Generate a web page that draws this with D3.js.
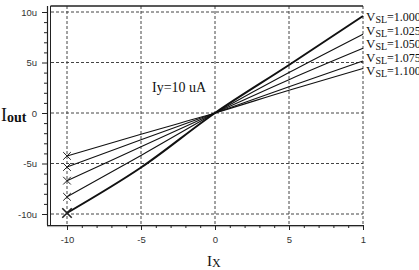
<!DOCTYPE html>
<html lang="en">
<head>
<meta charset="UTF-8">
<title>Iout vs Ix</title>
<script src="https://cdn.jsdelivr.net/npm/d3@7"></script>
<style>
body { margin: 0; background: #fff; }
svg { display: block; }
.tick text { font: 9.5px "Liberation Sans", Arial, sans-serif; fill: #333; }
.serif { font-family: "Liberation Serif", "Times New Roman", serif; fill: #111; }
</style>
</head>
<body>
<svg id="chart" width="419" height="270"></svg>
<script>
// x values of the sweep (Ix)
const ixValues = [-10, -5, 0, 5, 10];
// Iout in uA, one series per VSL
const vslLabels = ["1.000", "1.025", "1.050", "1.075", "1.100"];
const ioutSeries = [
    [-9.9, -5.4, 0, 4.75, 9.6],
    [-8.3, -4.2, 0, 4.0, 7.8],
    [-6.7, -3.35, 0, 3.3, 6.4],
    [-5.35, -2.65, 0, 2.6, 5.15],
    [-4.25, -2.1, 0, 2.25, 4.4]
];
const xMajor = [-10, -5, 0, 5, 10];
const xMajorLabels = ["-10", "-5", "0", "5", "1"];
const yMajor = [10, 5, 0, -5, -10];
const yMajorLabels = ["10u", "5u", "0", "-5u", "-10u"];

const svg = d3.select("#chart");
const x = d3.scaleLinear().domain([-10, 10]).range([67, 363]);
const y = d3.scaleLinear().domain([-10, 10]).range([214, 12]);

const TOP = 6, BOTTOM = 225, LEFT = 47;

// grid
const grid = svg.append("g").attr("stroke", "#444").attr("stroke-dasharray", "3,2").attr("stroke-width", 1);
grid.selectAll(".gx").data(xMajor).join("line")
    .attr("x1", d => x(d)).attr("x2", d => x(d))
    .attr("y1", TOP).attr("y2", BOTTOM);
grid.selectAll(".gy").data(yMajor).join("line")
    .attr("x1", 51).attr("x2", 363)
    .attr("y1", d => y(d)).attr("y2", d => y(d));

// frame
svg.append("line").attr("x1", 50.5).attr("x2", 363).attr("y1", TOP).attr("y2", TOP)
    .attr("stroke", "#222").attr("stroke-width", 1.5);
svg.append("line").attr("x1", 50.5).attr("x2", 50.5).attr("y1", TOP).attr("y2", BOTTOM)
    .attr("stroke", "#222").attr("stroke-width", 1);
svg.append("line").attr("x1", LEFT).attr("x2", 363).attr("y1", BOTTOM + 1.6).attr("y2", BOTTOM + 1.6)
    .attr("stroke", "#aaa").attr("stroke-width", 1);

// axes
const minorX = d3.range(-10, 10.01, 1).filter(v => !xMajor.includes(v));
const minorY = d3.range(-10, 10.01, 1).filter(v => !yMajor.includes(v));

const gx = svg.append("g").attr("transform", `translate(0,${BOTTOM})`);
gx.call(d3.axisBottom(x).tickValues(xMajor).tickSize(5).tickSizeOuter(0)
    .tickFormat((d, i) => xMajorLabels[i]).tickPadding(6));
gx.append("g").call(d3.axisBottom(x).tickValues(minorX).tickSize(3).tickSizeOuter(0).tickFormat(""))
    .select(".domain").remove();
gx.select(".domain").attr("d", `M${LEFT},0.5H363`).attr("stroke", "#222").attr("stroke-width", 1.2);
gx.selectAll(".tick line").attr("stroke", "#222");

const gy = svg.append("g").attr("transform", `translate(${LEFT},0)`);
gy.call(d3.axisLeft(y).tickValues(yMajor).tickSize(5).tickSizeOuter(0)
    .tickFormat((d, i) => yMajorLabels[i]).tickPadding(5));
gy.append("g").call(d3.axisLeft(y).tickValues(minorY).tickSize(3).tickSizeOuter(0).tickFormat(""))
    .select(".domain").remove();
gy.select(".domain").attr("d", `M0.5,${TOP}V${BOTTOM}`).attr("stroke", "#222").attr("stroke-width", 1.2);
gy.selectAll(".tick line").attr("stroke", "#222");

// curves
const line = d3.line().x((d, i) => x(ixValues[i])).y(d => y(d)).curve(d3.curveMonotoneX);
svg.append("g").selectAll("path").data(ioutSeries).join("path")
    .attr("d", line)
    .attr("fill", "none")
    .attr("stroke", "#111")
    .attr("stroke-width", (d, i) => i === 0 ? 2 : 1.1);

// start markers
const sym = d3.symbol().type(d3.symbolX);
svg.append("g").selectAll("path").data(ioutSeries).join("path")
    .attr("transform", d => `translate(${x(ixValues[0])},${y(d[0])})`)
    .attr("d", (d, i) => sym.size(i === 0 ? 60 : 40)())
    .attr("fill", "none")
    .attr("stroke", "#222")
    .attr("stroke-width", (d, i) => i === 0 ? 1.6 : 1);

// legend labels at line ends
const leg = svg.append("g").attr("class", "serif");
const legY = [21, 34.5, 48, 61.5, 75];
vslLabels.forEach((v, i) => {
    const t = leg.append("text").attr("x", 366).attr("y", legY[i]).attr("font-size", 13);
    t.append("tspan").text("V");
    t.append("tspan").attr("font-size", 10).attr("dy", 2).text("SL");
    t.append("tspan").attr("font-size", 12).attr("dy", -2).text("=" + v);
});

// annotation
svg.append("text").attr("class", "serif").attr("x", 152).attr("y", 92)
    .attr("font-size", 14).text("Iy=10 uA");

// axis titles
const yt = svg.append("text").attr("class", "serif").attr("x", 1).attr("y", 121).attr("font-size", 18);
yt.append("tspan").text("I");
yt.append("tspan").attr("font-size", 14).attr("font-weight", "bold").attr("dy", 1).text("out");

const xt = svg.append("text").attr("class", "serif").attr("x", 207).attr("y", 266).attr("font-size", 15);
xt.append("tspan").text("I");
xt.append("tspan").attr("font-size", 12).attr("dy", 1).text("X");
</script>
</body>
</html>
